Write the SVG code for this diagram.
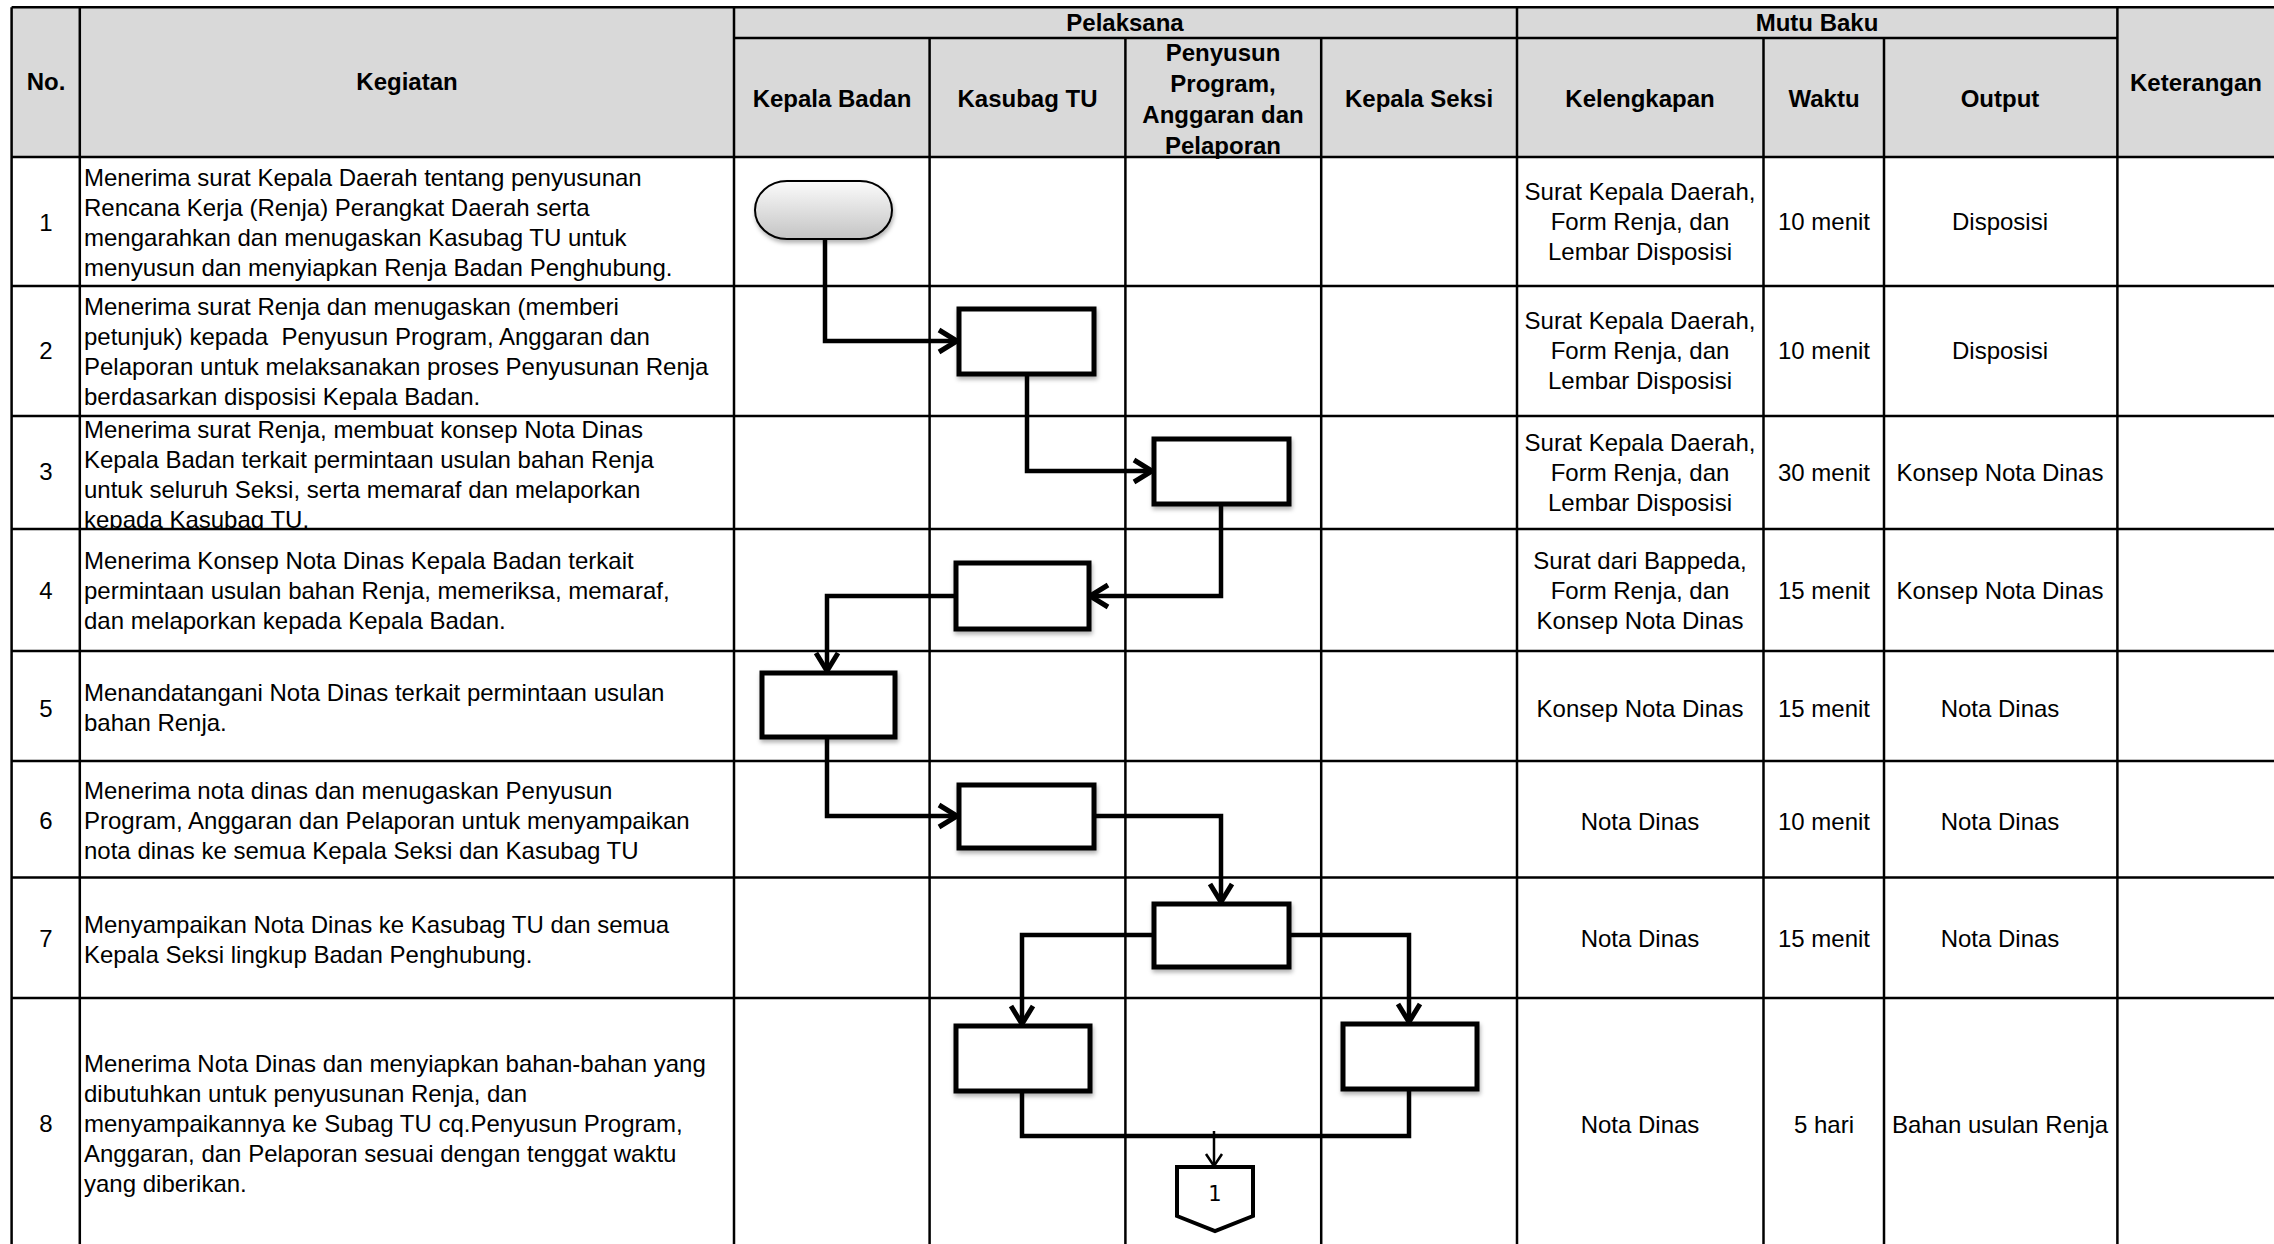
<svg xmlns="http://www.w3.org/2000/svg" width="2274" height="1244" viewBox="0 0 2274 1244">
<style>
.t{font-family:"Liberation Sans",Arial,sans-serif;font-size:24px;fill:#000}
.h{font-weight:bold}
.c{text-anchor:middle}
.g line{stroke:#000;stroke-width:2.5}
.box{fill:#fff;stroke:#000;stroke-width:5}
.conn{fill:none;stroke:#000;stroke-width:4.5;stroke-linejoin:miter}
</style>
<defs>
<linearGradient id="tg" x1="0" y1="0" x2="0" y2="1">
<stop offset="0" stop-color="#fbfbfb"/>
<stop offset="1" stop-color="#c4c4c4"/>
</linearGradient>
<filter id="sh" x="-10%" y="-10%" width="130%" height="140%">
<feDropShadow dx="1" dy="3" stdDeviation="2" flood-color="#000" flood-opacity="0.3"/>
</filter>
<marker id="ar" markerUnits="userSpaceOnUse" markerWidth="24" markerHeight="28" viewBox="0 0 24 28" refX="21" refY="14" orient="auto" overflow="visible">
<path d="M3,3 L21,14 L3,25" fill="none" stroke="#000" stroke-width="5"/>
</marker>
<marker id="ars" markerUnits="userSpaceOnUse" markerWidth="16" markerHeight="20" viewBox="0 0 16 20" refX="14" refY="10" orient="auto" overflow="visible">
<path d="M2,2 L14,10 L2,18" fill="none" stroke="#000" stroke-width="2.5"/>
</marker>
<clipPath id="r3"><rect x="80" y="416" width="654" height="112"/></clipPath>
</defs>
<rect x="0" y="0" width="2274" height="1244" fill="#fff"/>
<rect x="11.6" y="7.3" width="2262.4" height="149.7" fill="#d9d9d9"/>

<g id="header">
<text class="t h c" x="46" y="90">No.</text>
<text class="t h c" x="407" y="90">Kegiatan</text>
<text class="t h c" x="1125" y="31">Pelaksana</text>
<text class="t h c" x="1817" y="31">Mutu Baku</text>
<text class="t h c" x="2196" y="91">Keterangan</text>
<text class="t h c" x="832" y="107">Kepala Badan</text>
<text class="t h c" x="1027.5" y="107">Kasubag TU</text>
<text class="t h c" x="1223" y="61">Penyusun</text>
<text class="t h c" x="1223" y="92">Program,</text>
<text class="t h c" x="1223" y="123">Anggaran dan</text>
<text class="t h c" x="1223" y="154">Pelaporan</text>
<text class="t h c" x="1419" y="107">Kepala Seksi</text>
<text class="t h c" x="1640" y="107">Kelengkapan</text>
<text class="t h c" x="1824" y="107">Waktu</text>
<text class="t h c" x="2000" y="107">Output</text>
</g>

<g id="rows" class="t">
<text class="c" x="46" y="231">1</text>
<text x="84" y="186">Menerima surat Kepala Daerah tentang penyusunan</text>
<text x="84" y="216">Rencana Kerja (Renja) Perangkat Daerah serta</text>
<text x="84" y="246">mengarahkan dan menugaskan Kasubag TU untuk</text>
<text x="84" y="276">menyusun dan menyiapkan Renja Badan Penghubung.</text>
<text class="c" x="1640" y="200">Surat Kepala Daerah,</text>
<text class="c" x="1640" y="230">Form Renja, dan</text>
<text class="c" x="1640" y="260">Lembar Disposisi</text>
<text class="c" x="1824" y="230">10 menit</text>
<text class="c" x="2000" y="230">Disposisi</text>

<text class="c" x="46" y="359">2</text>
<text x="84" y="315">Menerima surat Renja dan menugaskan (memberi</text>
<text x="84" y="345" xml:space="preserve">petunjuk) kepada  Penyusun Program, Anggaran dan</text>
<text x="84" y="375">Pelaporan untuk melaksanakan proses Penyusunan Renja</text>
<text x="84" y="405">berdasarkan disposisi Kepala Badan.</text>
<text class="c" x="1640" y="329">Surat Kepala Daerah,</text>
<text class="c" x="1640" y="359">Form Renja, dan</text>
<text class="c" x="1640" y="389">Lembar Disposisi</text>
<text class="c" x="1824" y="359">10 menit</text>
<text class="c" x="2000" y="359">Disposisi</text>

<text class="c" x="46" y="480">3</text>
<g clip-path="url(#r3)">
<text x="84" y="438">Menerima surat Renja, membuat konsep Nota Dinas</text>
<text x="84" y="468">Kepala Badan terkait permintaan usulan bahan Renja</text>
<text x="84" y="498">untuk seluruh Seksi, serta memaraf dan melaporkan</text>
<text x="84" y="528">kepada Kasubag TU.</text>
</g>
<text class="c" x="1640" y="451">Surat Kepala Daerah,</text>
<text class="c" x="1640" y="481">Form Renja, dan</text>
<text class="c" x="1640" y="511">Lembar Disposisi</text>
<text class="c" x="1824" y="481">30 menit</text>
<text class="c" x="2000" y="481">Konsep Nota Dinas</text>

<text class="c" x="46" y="599">4</text>
<text x="84" y="569">Menerima Konsep Nota Dinas Kepala Badan terkait</text>
<text x="84" y="599">permintaan usulan bahan Renja, memeriksa, memaraf,</text>
<text x="84" y="629">dan melaporkan kepada Kepala Badan.</text>
<text class="c" x="1640" y="569">Surat dari Bappeda,</text>
<text class="c" x="1640" y="599">Form Renja, dan</text>
<text class="c" x="1640" y="629">Konsep Nota Dinas</text>
<text class="c" x="1824" y="599">15 menit</text>
<text class="c" x="2000" y="599">Konsep Nota Dinas</text>

<text class="c" x="46" y="717">5</text>
<text x="84" y="701">Menandatangani Nota Dinas terkait permintaan usulan</text>
<text x="84" y="731">bahan Renja.</text>
<text class="c" x="1640" y="717">Konsep Nota Dinas</text>
<text class="c" x="1824" y="717">15 menit</text>
<text class="c" x="2000" y="717">Nota Dinas</text>

<text class="c" x="46" y="829">6</text>
<text x="84" y="799">Menerima nota dinas dan menugaskan Penyusun</text>
<text x="84" y="829">Program, Anggaran dan Pelaporan untuk menyampaikan</text>
<text x="84" y="859">nota dinas ke semua Kepala Seksi dan Kasubag TU</text>
<text class="c" x="1640" y="830">Nota Dinas</text>
<text class="c" x="1824" y="830">10 menit</text>
<text class="c" x="2000" y="830">Nota Dinas</text>

<text class="c" x="46" y="947">7</text>
<text x="84" y="933">Menyampaikan Nota Dinas ke Kasubag TU dan semua</text>
<text x="84" y="963">Kepala Seksi lingkup Badan Penghubung.</text>
<text class="c" x="1640" y="947">Nota Dinas</text>
<text class="c" x="1824" y="947">15 menit</text>
<text class="c" x="2000" y="947">Nota Dinas</text>

<text class="c" x="46" y="1132">8</text>
<text x="84" y="1072">Menerima Nota Dinas dan menyiapkan bahan-bahan yang</text>
<text x="84" y="1102">dibutuhkan untuk penyusunan Renja, dan</text>
<text x="84" y="1132">menyampaikannya ke Subag TU cq.Penyusun Program,</text>
<text x="84" y="1162">Anggaran, dan Pelaporan sesuai dengan tenggat waktu</text>
<text x="84" y="1192">yang diberikan.</text>
<text class="c" x="1640" y="1133">Nota Dinas</text>
<text class="c" x="1824" y="1133">5 hari</text>
<text class="c" x="2000" y="1133">Bahan usulan Renja</text>
</g>

<g id="grid" class="g">
<line x1="11.6" y1="7.3" x2="2274" y2="7.3"/>
<line x1="734" y1="38" x2="2117.4" y2="38"/>
<line x1="11.6" y1="157" x2="2274" y2="157"/>
<line x1="11.6" y1="286" x2="2274" y2="286"/>
<line x1="11.6" y1="416" x2="2274" y2="416"/>
<line x1="11.6" y1="529" x2="2274" y2="529"/>
<line x1="11.6" y1="651" x2="2274" y2="651"/>
<line x1="11.6" y1="761" x2="2274" y2="761"/>
<line x1="11.6" y1="877.5" x2="2274" y2="877.5"/>
<line x1="11.6" y1="998" x2="2274" y2="998"/>
<line x1="11.6" y1="7.3" x2="11.6" y2="1244"/>
<line x1="79.8" y1="7.3" x2="79.8" y2="1244"/>
<line x1="734" y1="7.3" x2="734" y2="1244"/>
<line x1="929.6" y1="38" x2="929.6" y2="1244"/>
<line x1="1125.4" y1="38" x2="1125.4" y2="1244"/>
<line x1="1321.2" y1="38" x2="1321.2" y2="1244"/>
<line x1="1517" y1="7.3" x2="1517" y2="1244"/>
<line x1="1763.5" y1="38" x2="1763.5" y2="1244"/>
<line x1="1884" y1="38" x2="1884" y2="1244"/>
<line x1="2117.4" y1="7.3" x2="2117.4" y2="1244"/>
</g>

<g id="connectors">
<path class="conn" d="M825,239 V341 H957" marker-end="url(#ar)"/>
<path class="conn" d="M1027,374 V471 H1152" marker-end="url(#ar)"/>
<path class="conn" d="M1221,504 V596 H1090" marker-end="url(#ar)"/>
<path class="conn" d="M956,596 H827 V671" marker-end="url(#ar)"/>
<path class="conn" d="M827,737 V816 H957" marker-end="url(#ar)"/>
<path class="conn" d="M1094,816 H1221 V902" marker-end="url(#ar)"/>
<path class="conn" d="M1154,935 H1022 V1024" marker-end="url(#ar)"/>
<path class="conn" d="M1289,935 H1409 V1022" marker-end="url(#ar)"/>
<path class="conn" d="M1022,1091 V1136 H1409 V1089"/>
<path d="M1214,1131 V1166" fill="none" stroke="#000" stroke-width="2.5" marker-end="url(#ars)"/>
</g>

<g id="n1"><rect x="755" y="181" width="137" height="58" rx="32" ry="29" fill="url(#tg)" stroke="#000" stroke-width="2" filter="url(#sh)"/></g>
<g id="n2"><rect class="box" x="959" y="309" width="135" height="65" filter="url(#sh)"/></g>
<g id="n3"><rect class="box" x="1154" y="439" width="135" height="65" filter="url(#sh)"/></g>
<g id="n4"><rect class="box" x="956" y="563" width="133" height="66" filter="url(#sh)"/></g>
<g id="n5"><rect class="box" x="762" y="673" width="133" height="64" filter="url(#sh)"/></g>
<g id="n6"><rect class="box" x="959" y="785" width="135" height="63" filter="url(#sh)"/></g>
<g id="n7"><rect class="box" x="1154" y="904" width="135" height="63" filter="url(#sh)"/></g>
<g id="n8a"><rect class="box" x="956" y="1026" width="134" height="65" filter="url(#sh)"/></g>
<g id="n8b"><rect class="box" x="1343" y="1024" width="134" height="65" filter="url(#sh)"/></g>
<g id="n9">
<polygon points="1177,1167 1253,1167 1253,1216 1215,1231 1177,1216" fill="#fff" stroke="#000" stroke-width="4"/>
<text x="1215" y="1201" font-family="DejaVu Sans, sans-serif" font-size="21" text-anchor="middle">1</text>
</g>
</svg>
